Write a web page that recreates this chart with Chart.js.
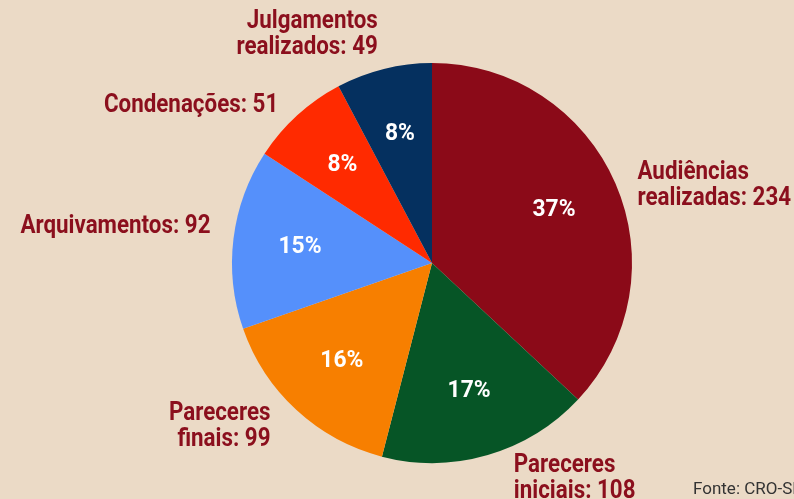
<!DOCTYPE html>
<html lang="pt">
<head>
  <meta charset="UTF-8">
  <title>Processos</title>
  <script src="https://cdn.jsdelivr.net/npm/chart.js"></script>
  <style>
    body {
      margin: 0;
      background-color: #ebdac6;
      width: 794px;
      height: 499px;
      overflow: hidden;
      position: relative;
    }
    #wrap {
      position: absolute;
      left: 0;
      top: 0;
      width: 794px;
      height: 499px;
    }
    .fonte {
      position: absolute;
      left: 693px;
      top: 478px;
      font-family: 'Roboto', sans-serif;
      font-size: 17px;
      color: #333;
      white-space: nowrap;
    }
  </style>
</head>
<body>
  <div id="wrap"><canvas id="pie" width="794" height="499"></canvas></div>
  <div class="fonte">Fonte: CRO-SP</div>

  <script>
    const categories = [
      ['Audiências', 'realizadas: 234'],
      ['Pareceres', 'iniciais: 108'],
      ['Pareceres', 'finais: 99'],
      ['Arquivamentos: 92'],
      ['Condenações: 51'],
      ['Julgamentos', 'realizados: 49']
    ];
    const values = [234, 108, 99, 92, 51, 49];
    const percentLabels = ['37%', '17%', '16%', '15%', '8%', '8%'];
    const colors = ['#8b0a18', '#065526', '#f77f00', '#5590fb', '#ff2a00', '#05305f'];

    const labelFont = "bold 26px Roboto, sans-serif";
    const pctFont = "bold 24px Roboto, sans-serif";

    // where each outer label sits relative to its slice edge
    const outer = [
      { dx: 22, dy: 2, align: 'left' },
      { dx: 26, dy: 23, align: 'left' },
      { dx: -26, dy: 16, align: 'right' },
      { dx: -23, dy: -12, align: 'right' },
      { dx: -19, dy: -10, align: 'right' },
      { dx: -6, dy: -34, align: 'right' }
    ];

    // the original face is a condensed one, so squeeze horizontally
    function narrowText(ctx, text, x, y, sx) {
      ctx.save();
      ctx.translate(x, y);
      ctx.scale(sx, 1);
      ctx.fillText(text, 0, 0);
      ctx.restore();
    }

    const labelPlugin = {
      id: 'sliceLabels',
      afterDatasetsDraw(chart) {
        const ctx = chart.ctx;
        const arcs = chart.getDatasetMeta(0).data;
        arcs.forEach((arc, i) => {
          const p = arc.getProps(['x', 'y', 'startAngle', 'endAngle', 'outerRadius'], true);
          const mid = (p.startAngle + p.endAngle) / 2;
          ctx.save();
          // percentage inside
          const ri = p.outerRadius * 0.665;
          ctx.fillStyle = '#fff';
          ctx.font = pctFont;
          ctx.textAlign = 'center';
          ctx.textBaseline = 'middle';
          narrowText(ctx, percentLabels[i], p.x + Math.cos(mid) * ri, p.y + Math.sin(mid) * ri, 0.95);
          // category outside
          const ex = p.x + Math.cos(mid) * p.outerRadius + outer[i].dx;
          const ey = p.y + Math.sin(mid) * p.outerRadius + outer[i].dy;
          const lines = categories[i];
          const lh = 26;
          ctx.fillStyle = '#8b0f1d';
          ctx.font = labelFont;
          ctx.textAlign = outer[i].align;
          lines.forEach((t, k) => {
            narrowText(ctx, t, ex, ey + (k - (lines.length - 1) / 2) * lh, 0.86);
          });
          ctx.restore();
        });
      }
    };

    new Chart(document.getElementById('pie'), {
      type: 'pie',
      data: {
        labels: categories.map(c => c.join(' ')),
        datasets: [{
          data: values,
          backgroundColor: colors,
          borderWidth: 0
        }]
      },
      options: {
        responsive: false,
        animation: false,
        layout: { padding: { top: 63, bottom: 36, left: 70, right: 0 } },
        plugins: {
          legend: { display: false },
          tooltip: { enabled: false }
        }
      },
      plugins: [labelPlugin]
    });
  </script>
</body>
</html>
